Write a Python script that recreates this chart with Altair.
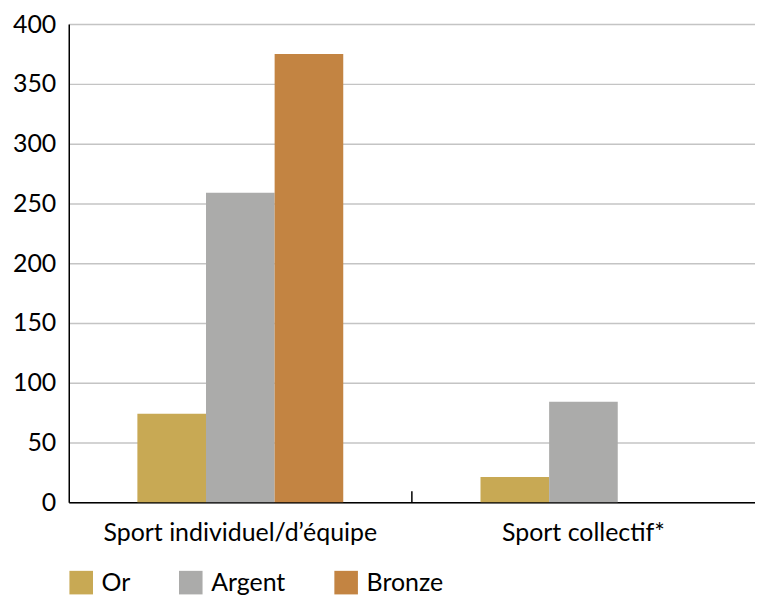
import altair as alt
import pandas as pd

categories = ["Sport individuel/d\u2019équipe", "Sport collectif*"]
medals = ["Or", "Argent", "Bronze"]
colors = ["#C8A954", "#ABABAA", "#C38442"]
or_values = [74, 21]
argent_values = [259, 84]
bronze_values = [375, 0]
y_ticks = [0, 50, 100, 150, 200, 250, 300, 350, 400]

rows = []
for i, c in enumerate(categories):
    rows.append({"cat": c, "medal": "Or", "value": or_values[i]})
    rows.append({"cat": c, "medal": "Argent", "value": argent_values[i]})
    rows.append({"cat": c, "medal": "Bronze", "value": bronze_values[i]})
df = pd.DataFrame(rows)

FONT = "Lato"
FS = 25
W, H = 689, 480

bars = alt.Chart(df).mark_bar().encode(
    x=alt.X("cat:N", sort=categories, title=None,
            scale=alt.Scale(paddingInner=0, paddingOuter=0),
            axis=alt.Axis(labelAngle=0, ticks=False, labelPadding=18, labelLimit=0,
                          domainColor="#000000", domainWidth=1.5,
                          labelFontSize=FS, labelColor="#000000", labelFont=FONT)),
    xOffset=alt.XOffset("medal:N", sort=medals,
                        scale=alt.Scale(domain=medals, paddingInner=0, paddingOuter=1)),
    y=alt.Y("value:Q", title=None,
            scale=alt.Scale(domain=[0, 400], nice=False),
            axis=alt.Axis(values=y_ticks, ticks=False, labelPadding=13,
                          domainColor="#000000", domainWidth=1.5,
                          gridColor="#C4C4C4", gridWidth=1.5,
                          labelFontSize=FS, labelColor="#000000", labelFont=FONT)),
    color=alt.Color("medal:N", sort=medals,
                    scale=alt.Scale(domain=medals, range=colors),
                    legend=alt.Legend(title=None, orient="none", direction="horizontal",
                                      legendX=0, legendY=548, padding=0,
                                      symbolType="square", symbolSize=560,
                                      symbolStrokeWidth=0, symbolOpacity=1,
                                      labelFontSize=FS, labelFont=FONT, labelColor="#000000",
                                      labelOffset=8, columnPadding=48, labelLimit=0)),
)

tick_df = pd.DataFrame({"cat": [categories[1]]})
tick = alt.Chart(tick_df).mark_rule(color="#000000", strokeWidth=1.5).encode(
    x=alt.X("cat:N", bandPosition=0, sort=categories),
    y=alt.value(H - 11),
    y2=alt.value(H),
)

chart = alt.layer(bars, tick).properties(
    width=W, height=H,
    padding={"left": 4, "top": 3, "right": 0, "bottom": 0},
).configure_view(stroke=None).configure_axis(gridOpacity=1)

chart.save("out.html", embed_options={"renderer": "svg", "actions": False})
